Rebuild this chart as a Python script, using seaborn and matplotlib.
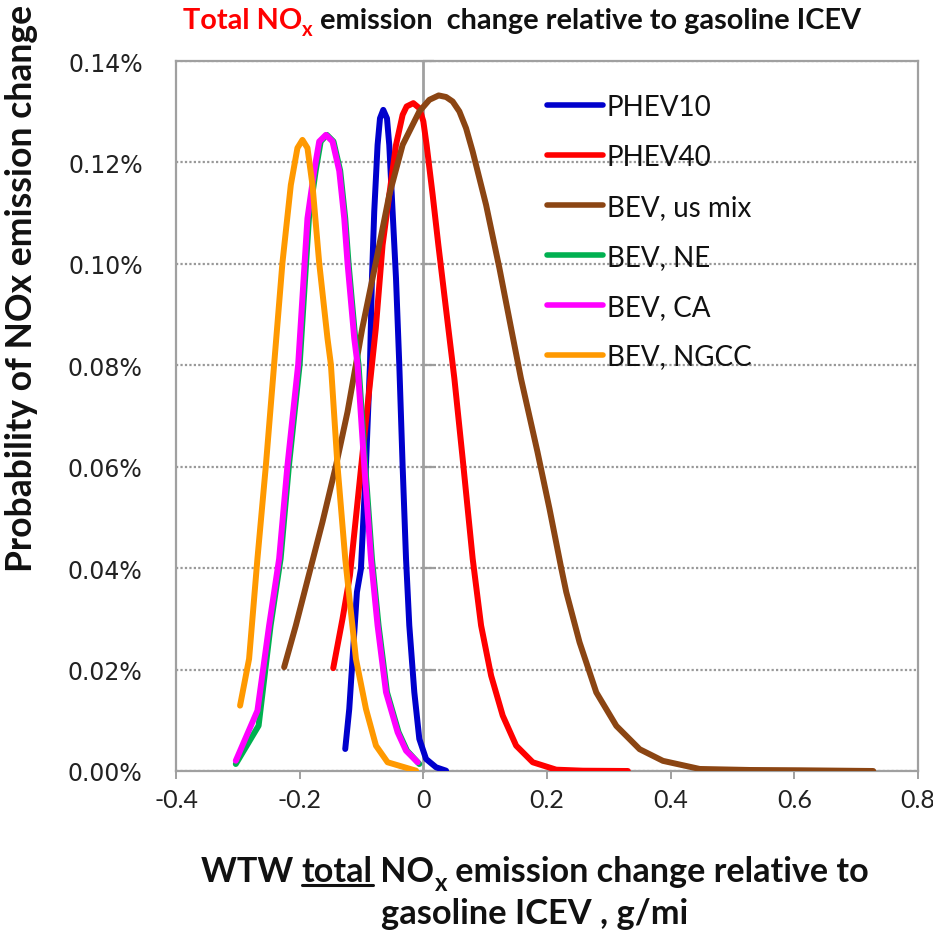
import numpy as np
import pandas as pd
import seaborn as sns
import matplotlib
matplotlib.use("Agg")
import matplotlib.pyplot as plt
from matplotlib.ticker import PercentFormatter, FixedLocator
from matplotlib.lines import Line2D

# ---------------- data (x: g/mi change, y: probability in percent) ----------------
series_names = ["PHEV10", "PHEV40", "BEV, us mix", "BEV, NE", "BEV, CA", "BEV, NGCC"]
series_colors = ["#0000CC", "#FF0000", "#8B4513", "#00B050", "#FF00FF", "#FF9900"]

phev10_x = [-0.1263, -0.1198, -0.1145, -0.1074, -0.1009, -0.0928, -0.0863, -0.0831, -0.0794,
            -0.0740, -0.0701, -0.0648, -0.0588, -0.0551, -0.0497, -0.0442, -0.0389, -0.0335,
            -0.0280, -0.0227, -0.0146, -0.0065, 0.0044, 0.0206, 0.0368]
phev10_y = [0.00434, 0.01224, 0.02211, 0.03528, 0.03988, 0.06016, 0.08016, 0.09714, 0.11031,
            0.12345, 0.12870, 0.13036, 0.12870, 0.12345, 0.11031, 0.09714, 0.08016, 0.06016,
            0.04186, 0.02869, 0.01554, 0.00632, 0.00237, 0.00073, 0.00006]

phev40_x = [-0.1457, -0.1307, -0.1187, -0.0980, -0.0769, -0.0659, -0.0551, -0.0442, -0.0335,
            -0.0270, -0.0162, -0.0065, 0.0000, 0.0053, 0.0151, 0.0243, 0.0356, 0.0502, 0.0636,
            0.0798, 0.0934, 0.1096, 0.1284, 0.1501, 0.1770, 0.2149, 0.2580, 0.3308]
phev40_y = [0.02028, 0.03001, 0.03856, 0.06298, 0.08727, 0.10371, 0.11358, 0.12345, 0.12938,
            0.13104, 0.13169, 0.13070, 0.12810, 0.12345, 0.11358, 0.10371, 0.09220, 0.07739,
            0.06160, 0.04186, 0.02869, 0.01882, 0.01092, 0.00500, 0.00172, 0.00026, 0.00006,
            0.0]

bev_us_x = [-0.2251, -0.2062, -0.1631, -0.1414, -0.1226, -0.1090, -0.0988, -0.0766, -0.0551,
            -0.0335, -0.0065, 0.0097, 0.0248, 0.0368, 0.0474, 0.0583, 0.0691, 0.0798, 0.1015,
            0.1231, 0.1420, 0.1579, 0.1846, 0.2040, 0.2230, 0.2311, 0.2526, 0.2797, 0.3121,
            0.3498, 0.3875, 0.4470, 0.5279, 0.6089, 0.7276]
bev_us_y = [0.02047, 0.02869, 0.04910, 0.06016, 0.07082, 0.08016, 0.08727, 0.10043, 0.11358,
            0.12345, 0.13005, 0.13234, 0.13321, 0.13290, 0.13202, 0.13005, 0.12675, 0.12215,
            0.11161, 0.09911, 0.08727, 0.07739, 0.06292, 0.05173, 0.04002, 0.03530, 0.02540,
            0.01550, 0.00890, 0.00430, 0.00200, 0.00040, 0.00020, 0.00014, 0.0]

bev_ne_x = [-0.3033, -0.2664, -0.2470, -0.2308, -0.2174, -0.2000, -0.1850, -0.1741, -0.1660,
            -0.1560, -0.1453, -0.1344, -0.1263, -0.1210, -0.1101, -0.1048, -0.0939, -0.0831,
            -0.0724, -0.0588, -0.0400, -0.0264, -0.0065]
bev_ne_y = [0.00138, 0.00894, 0.02869, 0.04186, 0.06016, 0.08016, 0.10898, 0.11834, 0.12413,
            0.12543, 0.12413, 0.11834, 0.10898, 0.10016, 0.08529, 0.08016, 0.06016, 0.04186,
            0.02869, 0.01554, 0.00764, 0.00401, 0.00138]

bev_ca_x = [-0.3033, -0.2683, -0.2494, -0.2332, -0.2198, -0.2024, -0.1874, -0.1765, -0.1684,
            -0.1576, -0.1469, -0.1360, -0.1279, -0.1226, -0.1117, -0.1064, -0.0955, -0.0847,
            -0.0740, -0.0604, -0.0416, -0.0280, -0.0092]
bev_ca_y = [0.00203, 0.01191, 0.02869, 0.04186, 0.06016, 0.08016, 0.10898, 0.11834, 0.12413,
            0.12543, 0.12413, 0.11834, 0.10898, 0.10016, 0.08529, 0.08016, 0.06016, 0.04186,
            0.02869, 0.01554, 0.00764, 0.00401, 0.00172]

bev_ngcc_x = [-0.2964, -0.2818, -0.2683, -0.2547, -0.2413, -0.2279, -0.2143, -0.2036, -0.1955,
              -0.1874, -0.1793, -0.1684, -0.1550, -0.1495, -0.1388, -0.1263, -0.1090, -0.0928,
              -0.0766, -0.0578, -0.0118]
bev_ngcc_y = [0.01289, 0.02211, 0.04186, 0.06016, 0.08016, 0.10016, 0.11556, 0.12285, 0.12444,
              0.12285, 0.11556, 0.10016, 0.08529, 0.08016, 0.06016, 0.04186, 0.02211, 0.01224,
              0.00500, 0.00172, 0.00006]

x_ticks = [-0.4, -0.2, 0, 0.2, 0.4, 0.6, 0.8]
x_tick_labels = ["-0.4", "-0.2", "0", "0.2", "0.4", "0.6", "0.8"]
y_ticks = [0.0, 0.0002, 0.0004, 0.0006, 0.0008, 0.0010, 0.0012, 0.0014]

all_x = [phev10_x, phev40_x, bev_us_x, bev_ne_x, bev_ca_x, bev_ngcc_x]
all_y = [phev10_y, phev40_y, bev_us_y, bev_ne_y, bev_ca_y, bev_ngcc_y]

frames = []
for name, xs, ys in zip(series_names, all_x, all_y):
    frames.append(pd.DataFrame({"x": xs, "p": np.array(ys) / 100.0, "series": name}))
df = pd.concat(frames, ignore_index=True)

# ---------------- styling ----------------
sns.set_style("white")
plt.rcParams["font.family"] = ["Lato", "DejaVu Sans"]

W, H = 933, 937
fig = plt.figure(figsize=(W / 100, H / 100), dpi=100)
ax_left, ax_right, ax_top, ax_bottom = 176, 918, 62, 772
ax = fig.add_axes([ax_left / W, 1 - ax_bottom / H, (ax_right - ax_left) / W, (ax_bottom - ax_top) / H])

GRAY = "#A0A0A0"

for name, color in zip(series_names, series_colors):
    sub = df[df["series"] == name]
    sns.lineplot(data=sub, x="x", y="p", color=color, lw=4.3, label=name,
                 sort=False, estimator=None, ax=ax, zorder=3, solid_capstyle="round",
                 solid_joinstyle="round")

ax.set_xlim(-0.4, 0.8)
ax.set_ylim(0, 0.0014)
ax.xaxis.set_major_locator(FixedLocator(x_ticks))
ax.set_xticklabels(x_tick_labels)
ax.yaxis.set_major_locator(FixedLocator(y_ticks))
ax.yaxis.set_major_formatter(PercentFormatter(xmax=1, decimals=2))
ax.set_xlabel("")
ax.set_ylabel("")

ax.yaxis.grid(True, linestyle=(0, (1.0, 1.0)), color="#999999", lw=1.6, zorder=0)
ax.xaxis.grid(False)
ax.set_axisbelow(True)

for sp in ax.spines.values():
    sp.set_visible(True)
    sp.set_color(GRAY)
    sp.set_linewidth(1.6)

ax.tick_params(axis="x", direction="out", length=6, width=1.4, color=GRAY, pad=6,
               labelsize=18, labelcolor="#222222", bottom=True)
for lbl in ax.get_xticklabels():
    lbl.set_family(["Lato", "DejaVu Sans"])
ax.tick_params(axis="y", length=0, pad=24, labelsize=17, labelcolor="#222222", left=True)
for lbl in ax.get_yticklabels():
    lbl.set_family(["DejaVu Sans"])

# vertical axis crossing at x = 0
sec = ax.secondary_yaxis((0 - (-0.4)) / 1.2)
sec.yaxis.set_major_locator(FixedLocator(y_ticks))
sec.tick_params(axis="y", direction="in", length=8, width=1.6, color=GRAY, labelleft=False)
sec.spines["left"].set_color(GRAY)
sec.spines["left"].set_linewidth(2.0)

# legend
leg = ax.legend(loc="upper left", bbox_to_anchor=(547 / W, 1 - 95 / H),
                bbox_transform=fig.transFigure, frameon=False, fontsize=20,
                handlelength=2.0, handletextpad=0.15, labelspacing=0.86,
                borderpad=0, borderaxespad=0)
for h in leg.legend_handles:
    h.set_linewidth(4.0)
for t in leg.get_texts():
    t.set_color("#111111")

# ---------------- rich text helpers ----------------
fig.canvas.draw()
renderer = fig.canvas.get_renderer()


def text_width(s, size, weight="bold", family="Lato"):
    t = fig.text(0, 0, s, fontsize=size, fontweight=weight, family=family)
    w = t.get_window_extent(renderer).width
    t.remove()
    return w


def rich_line(pieces, target_left, target_right, baseline_px, base_size=20):
    """pieces: (text, color, rel_size, dy_rel, underline). baseline_px measured from top."""
    total = sum(text_width(p[0], base_size * p[2]) for p in pieces)
    scale = (target_right - target_left) / total
    size = base_size * scale
    x = target_left
    y = H - baseline_px
    for s, color, rel, dy, underline in pieces:
        fs = size * rel
        t = fig.text(x / W, (y + dy * size) / H, s, fontsize=fs, fontweight="bold",
                     color=color, family="Lato", va="baseline", ha="left")
        bb = t.get_window_extent(renderer)
        if underline:
            uy = (y - 0.12 * size * 100 / 72) / H
            fig.add_artist(Line2D([bb.x0 / W, bb.x1 / W], [uy, uy], color=color,
                                  lw=2.2, transform=fig.transFigure))
        x = bb.x1
    return size


# title
rich_line([("Total NO", "#FF0000", 1.0, 0.0, False),
           ("x", "#FF0000", 0.7, -0.35, False),
           (" emission  change relative to gasoline ICEV", "#111111", 1.0, 0.0, False)],
          183, 860, 29)

# x label line 1 & 2
rich_line([("WTW ", "#111111", 1.0, 0.0, False),
           ("total", "#111111", 1.0, 0.0, True),
           (" NO", "#111111", 1.0, 0.0, False),
           ("x", "#111111", 0.7, -0.35, False),
           (" emission change relative to", "#111111", 1.0, 0.0, False)],
          201, 868, 882)
rich_line([("gasoline ICEV , g/mi", "#111111", 1.0, 0.0, False)], 381, 688, 924)

# y label
ylab = "Probability of NOx emission change"
tmp = fig.text(0, 0, ylab, fontsize=20, fontweight="bold", family="Lato")
wy = tmp.get_window_extent(renderer).width
tmp.remove()
fig.text(22 / W, 1 - 288.5 / H, ylab, rotation=90, fontsize=20 * 567 / wy, fontweight="bold",
         family="Lato", color="#111111", ha="center", va="center")

fig.savefig("out.png", dpi=100)
